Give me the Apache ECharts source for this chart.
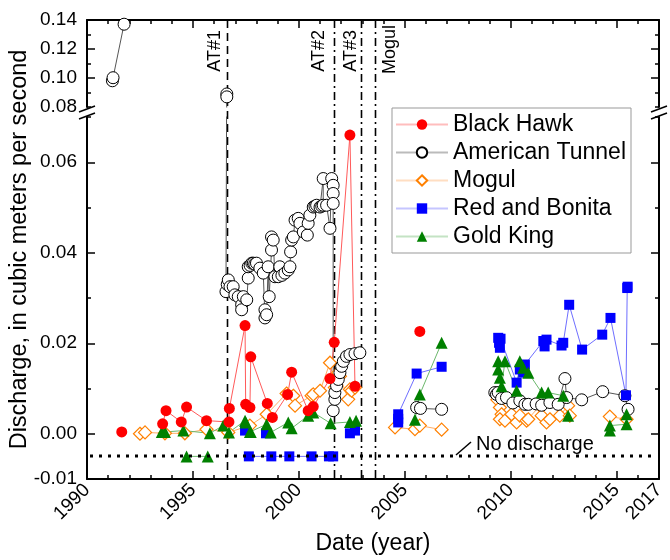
<!DOCTYPE html>
<html>
<head>
<meta charset="utf-8">
<script src="https://cdn.jsdelivr.net/npm/echarts@6.0.0/dist/echarts.min.js"></script>
<style>
  html, body { margin: 0; padding: 0; background: #fff; }
  #chart { width: 670px; height: 560px; }
</style>
</head>
<body>
<div id="chart"></div>
<script>
const FONT = '"Liberation Sans", Arial, sans-serif'

// each series is a list of segments, segments are not joined by a line
const blackHawk = [
  [[1991.64, 0.0004]],
  [[1993.57, 0.0022], [1993.73, 0.0051], [1994.45, 0.0026], [1994.70, 0.0059], [1995.64, 0.0029],
    [1996.70, 0.0026], [1996.72, 0.0056], [1997.46, 0.0239], [1997.49, 0.0065], [1997.69, 0.0058],
    [1997.73, 0.0170], [1998.51, 0.0067], [1998.75, 0.0036], [1999.47, 0.0087], [1999.66, 0.0136],
    [2000.44, 0.0051], [2000.68, 0.0060], [2001.47, 0.0122], [2001.67, 0.0202], [2002.41, 0.0660],
    [2002.65, 0.0105]],
  [[2005.71, 0.0226]]
]

const americanTunnel = [
  [[1991.20, 0.0981], [1991.23, 0.1002], [1991.75, 0.1371]],
  [[1996.60, 0.0890], [1996.60, 0.0870], [1996.56, 0.0314], [1996.62, 0.0330], [1996.67, 0.0340],
    [1996.75, 0.0325], [1996.90, 0.0325], [1996.98, 0.0307], [1997.14, 0.0303], [1997.30, 0.0285],
    [1997.30, 0.0274], [1997.38, 0.0303], [1997.54, 0.0296], [1997.61, 0.0344], [1997.61, 0.0369],
    [1997.70, 0.0372], [1997.78, 0.0377], [1997.85, 0.0377], [1997.92, 0.0375], [1998.00, 0.0377],
    [1998.16, 0.0366], [1998.32, 0.0355], [1998.40, 0.0256], [1998.40, 0.0274], [1998.48, 0.0263],
    [1998.55, 0.0369], [1998.60, 0.0303], [1998.71, 0.0406], [1998.71, 0.0435], [1998.79, 0.0428],
    [1998.87, 0.0347], [1999.03, 0.0347], [1999.10, 0.0369], [1999.20, 0.0350], [1999.34, 0.0355],
    [1999.50, 0.0362], [1999.58, 0.0369], [1999.61, 0.0402], [1999.66, 0.0428], [1999.74, 0.0435],
    [1999.82, 0.0472], [1999.97, 0.0476], [2000.05, 0.0465], [2000.21, 0.0446], [2000.40, 0.0439],
    [2000.44, 0.0465], [2000.52, 0.0483], [2000.68, 0.0501], [2000.76, 0.0503], [2000.84, 0.0505],
    [2001.00, 0.0501], [2001.08, 0.0503], [2001.15, 0.0564], [2001.15, 0.0505], [2001.31, 0.0505],
    [2001.47, 0.0454], [2001.55, 0.0564], [2001.62, 0.0549], [2001.62, 0.0531], [2001.62, 0.0509],
    [2001.62, 0.0051], [2001.70, 0.0076], [2001.70, 0.0091], [2001.78, 0.0106], [2001.86, 0.0120],
    [2001.94, 0.0135], [2002.02, 0.0149], [2002.10, 0.0160], [2002.25, 0.0171], [2002.41, 0.0175],
    [2002.65, 0.0177], [2002.88, 0.0179]],
  [[2005.56, 0.0058], [2005.74, 0.0056], [2006.74, 0.0054]],
  [[2009.25, 0.0091], [2009.33, 0.0087], [2009.41, 0.0091], [2009.57, 0.0078], [2009.80, 0.0080],
    [2010.10, 0.0068], [2010.43, 0.0073], [2010.67, 0.0065], [2010.83, 0.0065], [2011.20, 0.0066],
    [2011.46, 0.0063], [2011.85, 0.0069], [2012.24, 0.0065], [2012.56, 0.0122], [2012.64, 0.0080],
    [2013.35, 0.0075], [2014.34, 0.0093], [2015.39, 0.0084], [2015.54, 0.0054]]
]

const mogul = [
  [[1992.50, 0.0000], [1992.74, 0.0003], [1993.68, 0.0001], [1994.62, 0.0001], [1995.64, 0.0010],
    [1996.67, 0.0003], [1997.69, 0.0018], [1998.48, 0.0043], [1999.42, 0.0089], [1999.74, 0.0084],
    [1999.82, 0.0062], [2000.60, 0.0084], [2000.68, 0.0087], [2001.00, 0.0095], [2001.47, 0.0157],
    [2001.70, 0.0102], [2001.86, 0.0135], [2001.94, 0.0127], [2002.33, 0.0076], [2002.41, 0.0098],
    [2002.49, 0.0095], [2002.65, 0.0102]],
  [[2004.54, 0.0014], [2005.48, 0.0010], [2005.71, 0.0018], [2006.74, 0.0009]],
  [[2009.37, 0.0075], [2009.49, 0.0058], [2009.57, 0.0043], [2009.49, 0.0032], [2009.73, 0.0029],
    [2010.04, 0.0043], [2010.28, 0.0025], [2010.43, 0.0040], [2010.75, 0.0029], [2010.83, 0.0032],
    [2011.38, 0.0062], [2011.46, 0.0040], [2011.69, 0.0025], [2011.85, 0.0032], [2012.32, 0.0040],
    [2012.71, 0.0062], [2012.79, 0.0040]],
  [[2014.68, 0.0038], [2015.47, 0.0032]]
]

const redAndBonita = [
  [[1997.46, 0.0007]],
  [[1998.45, 0.0001]],
  [[1997.64, -0.005], [1998.70, -0.005], [1999.55, -0.005], [2000.60, -0.005], [2001.42, -0.005],
    [2001.62, -0.005]],
  [[2002.41, 0.0001], [2002.65, 0.0007]],
  [[2004.69, 0.0025], [2004.69, 0.0033], [2004.69, 0.0043], [2005.56, 0.0133], [2006.74, 0.0148]],
  [[2009.41, 0.0212], [2009.45, 0.0201], [2009.49, 0.0190], [2009.52, 0.0210], [2010.28, 0.0113],
    [2010.43, 0.0142], [2010.59, 0.0135], [2010.67, 0.0153], [2011.54, 0.0205], [2011.60, 0.0193],
    [2011.69, 0.0208], [2012.40, 0.0195], [2012.48, 0.0201], [2012.76, 0.0285], [2013.37, 0.0186],
    [2014.32, 0.0219], [2014.71, 0.0256], [2015.44, 0.0085], [2015.50, 0.0322], [2015.52, 0.0325]]
]

const goldKing = [
  [[1993.53, 0.0004], [1993.68, 0.0004], [1994.55, 0.0007], [1995.80, 0.0001], [1996.43, 0.0018],
    [1996.70, 0.0003], [1997.46, 0.0029], [1997.49, 0.0025], [1997.69, 0.0004], [1997.73, 0.0004],
    [1998.48, 0.0021], [1998.67, 0.0003], [1999.50, 0.0025], [1999.66, 0.0012], [2000.44, 0.0040],
    [2000.68, 0.0047], [2001.50, 0.0023], [2002.41, 0.0026], [2002.70, 0.0029]],
  [[1994.70, -0.005], [1995.70, -0.005]],
  [[2005.48, 0.0031], [2005.71, 0.0087], [2006.74, 0.0201]],
  [[2009.41, 0.0160], [2009.41, 0.0142], [2009.49, 0.0124], [2009.57, 0.0105], [2009.73, 0.0160],
    [2010.28, 0.0095], [2010.43, 0.0160], [2010.59, 0.0146], [2010.83, 0.0135], [2011.46, 0.0091],
    [2011.77, 0.0091], [2012.48, 0.0084], [2012.71, 0.0040]],
  [[2014.68, 0.0007], [2014.68, 0.0018], [2015.47, 0.0021], [2015.47, 0.0043]]
]

const noDischarge = -0.005
const refLines = [['AT#1', 1996.61], ['AT#2', 2001.66], ['AT#3', 2002.92], ['Mogul', 2003.59]]
const xLabelYears = [1990, 1995, 2000, 2005, 2010, 2015, 2017]
const xMajorYears = [1990, 1995, 2000, 2005, 2010, 2015]
const upperTicks = [0.08, 0.10, 0.12, 0.14]
const lowerTicks = [-0.01, 0.00, 0.02, 0.04, 0.06]

function joinSegments (segs) {
  const out = []
  segs.forEach((s, i) => {
    if (i) out.push([null, null])
    s.forEach(p => out.push(p))
  })
  return out
}

const black = { color: '#000', width: 1.5 }

function xAxisFor (gridIndex, position, major) {
  return {
    type: 'value', gridIndex, position, min: 1990, max: 2017, interval: 1,
    axisLine: { show: !major, onZero: false, lineStyle: { color: '#000', width: 2 } },
    axisTick: major
      ? { inside: true, length: 8, customValues: xMajorYears, lineStyle: black }
      : { inside: true, length: 4, lineStyle: black },
    axisLabel: { show: false },
    splitLine: { show: false }
  }
}

function yAxisFor (gridIndex, position, min, max, majors, major) {
  return {
    type: 'value', gridIndex, position, min, max, interval: 0.01,
    axisLine: { show: !major, onZero: false, lineStyle: { color: '#000', width: 2 } },
    axisTick: major
      ? { inside: true, length: 8, customValues: majors.filter(v => v > min), lineStyle: black }
      : { inside: true, length: 4, lineStyle: black },
    axisLabel: { show: false },
    splitLine: { show: false }
  }
}

const xBottom = xAxisFor(1, 'bottom', false)
xBottom.axisLabel = {
  show: true, rotate: 45, margin: 8, color: '#000', fontSize: 19, fontFamily: FONT,
  formatter: v => xLabelYears.includes(v) ? String(v) : ''
}
xBottom.name = 'Date (year)'
xBottom.nameLocation = 'middle'
xBottom.nameGap = 53
xBottom.nameTextStyle = { color: '#000', fontSize: 23, fontFamily: FONT }

function yLabels (ticks) {
  return {
    show: true, margin: 10, color: '#000', fontSize: 19, fontFamily: FONT,
    formatter: v => ticks.some(t => Math.abs(t - v) < 1e-9) ? v.toFixed(2) : ''
  }
}

const yUpperLeft = yAxisFor(0, 'left', 0.08, 0.14, upperTicks, false)
yUpperLeft.axisLabel = yLabels(upperTicks)
const yLowerLeft = yAxisFor(1, 'left', -0.01, 0.07, lowerTicks, false)
yLowerLeft.axisLabel = yLabels(lowerTicks)

const styles = {
  'Black Hawk': { symbol: 'circle', symbolSize: 11, item: { color: '#ff0000' }, line: '#ff5a5a' },
  'American Tunnel': { symbol: 'circle', symbolSize: 12, item: { color: '#fff', borderColor: '#000', borderWidth: 1 }, line: '#555' },
  'Mogul': { symbol: 'diamond', symbolSize: 13, item: { color: '#fff', borderColor: '#ff8000', borderWidth: 1.2 }, line: '#ffad66' },
  'Red and Bonita': { symbol: 'rect', symbolSize: 10, item: { color: '#0000ff' }, line: '#6e6eff' },
  'Gold King': { symbol: 'triangle', symbolSize: 12, item: { color: '#008000' }, line: '#6cb86c' }
}

function makeSeries (name, segs, xi, yi) {
  const st = styles[name]
  return {
    name, type: 'line', xAxisIndex: xi, yAxisIndex: yi,
    data: joinSegments(segs),
    symbol: st.symbol, symbolSize: st.symbolSize,
    itemStyle: st.item,
    lineStyle: { color: st.line, width: 1 },
    clip: true, silent: true
  }
}

const option = {
  animation: false,
  backgroundColor: '#fff',
  grid: [
    { left: 87, right: 11, top: 20, height: 87 },
    { left: 87, right: 11, top: 117, bottom: 80 }
  ],
  xAxis: [
    xAxisFor(0, 'top', false),
    xAxisFor(0, 'top', true),
    xBottom,
    xAxisFor(1, 'bottom', true)
  ],
  yAxis: [
    yUpperLeft,
    yAxisFor(0, 'left', 0.08, 0.14, upperTicks, true),
    yAxisFor(0, 'right', 0.08, 0.14, upperTicks, false),
    yAxisFor(0, 'right', 0.08, 0.14, upperTicks, true),
    yLowerLeft,
    yAxisFor(1, 'left', -0.01, 0.07, lowerTicks, true),
    yAxisFor(1, 'right', -0.01, 0.07, lowerTicks, false),
    yAxisFor(1, 'right', -0.01, 0.07, lowerTicks, true)
  ],
  legend: {
    data: ['Black Hawk', 'American Tunnel', 'Mogul', 'Red and Bonita', 'Gold King'],
    orient: 'vertical', left: 392, top: 108,
    itemWidth: 52, itemHeight: 13, itemGap: 5,
    padding: [5, 5, 5, 3],
    borderColor: '#999', borderWidth: 1, backgroundColor: '#fff',
    textStyle: { color: '#000', fontSize: 23, fontFamily: FONT },
    lineStyle: { width: 2, opacity: 0.4 },
    selectedMode: false
  },
  series: [
    makeSeries('American Tunnel', americanTunnel, 0, 0),
    makeSeries('Mogul', mogul, 2, 4),
    makeSeries('American Tunnel', americanTunnel, 2, 4),
    makeSeries('Red and Bonita', redAndBonita, 2, 4),
    makeSeries('Gold King', goldKing, 2, 4),
    makeSeries('Black Hawk', blackHawk, 2, 4)
  ]
}

const chart = echarts.init(document.getElementById('chart'))
chart.setOption(option)

// reference lines, axis breaks and notes, placed through the axes
const plotTop = chart.convertToPixel({ yAxisIndex: 0 }, 0.14)
const plotBottom = chart.convertToPixel({ yAxisIndex: 4 }, -0.01)
const breakHigh = chart.convertToPixel({ yAxisIndex: 0 }, 0.08)
const breakLow = chart.convertToPixel({ yAxisIndex: 4 }, 0.07)
const plotLeft = chart.convertToPixel({ xAxisIndex: 2 }, 1990)
const plotRight = chart.convertToPixel({ xAxisIndex: 2 }, 2017)

const labelDx = [-12, -15, -10, 15]
const labelTop = [10, 10, 10, 5]
const dashes = [[8, 5], [8, 4, 2, 4], [8, 4, 2, 4], [8, 4, 2, 4]]
const graphic = []
refLines.forEach(([label, year], i) => {
  const px = Math.round(chart.convertToPixel({ xAxisIndex: 2 }, year)) + 0.5
  graphic.push({
    type: 'line', z: 1, silent: true,
    shape: { x1: px, y1: plotTop, x2: px, y2: plotBottom },
    style: { stroke: '#000', lineWidth: 1.6, lineDash: dashes[i] }
  })
  graphic.push({
    type: 'text', z: 10, silent: true,
    x: px + labelDx[i], y: plotTop + labelTop[i], rotation: Math.PI / 2,
    style: { text: label, font: '18px ' + FONT, fill: '#000', textAlign: 'right', textVerticalAlign: 'middle' }
  })
})

// "no discharge" level, dotted across the whole plot, over the markers
const noteY = Math.round(chart.convertToPixel({ yAxisIndex: 4 }, noDischarge))
graphic.push({
  type: 'line', z: 10, silent: true,
  shape: { x1: plotLeft + 3, y1: noteY, x2: plotRight - 2, y2: noteY },
  style: { stroke: '#000', lineWidth: 3, lineDash: [3, 6] }
})

const breakMid = (breakHigh + breakLow) / 2
;[plotLeft, plotRight].forEach(ax => {
  [-3, 4].forEach(dy => {
    graphic.push({
      type: 'line', z: 10, silent: true,
      shape: { x1: ax - 8, y1: breakMid + dy + 3, x2: ax + 8, y2: breakMid + dy - 3 },
      style: { stroke: '#000', lineWidth: 1.5 }
    })
  })
})

graphic.push({
  type: 'text', z: 10, silent: true, x: 20, y: (plotTop + plotBottom) / 2, rotation: Math.PI / 2,
  style: { text: 'Discharge, in cubic meters per second', font: '23.5px ' + FONT, fill: '#000', textAlign: 'center', textVerticalAlign: 'middle' }
})

graphic.push({
  type: 'line', z: 10, silent: true,
  shape: { x1: 456, y1: noteY - 1, x2: 471, y2: noteY - 14 },
  style: { stroke: '#000', lineWidth: 1.5 }
})
graphic.push({
  type: 'text', z: 10, silent: true, x: 476, y: noteY - 12,
  style: { text: 'No discharge', font: '20px ' + FONT, fill: '#000', textAlign: 'left', textVerticalAlign: 'middle' }
})

chart.setOption({ graphic })
</script>
</body>
</html>
